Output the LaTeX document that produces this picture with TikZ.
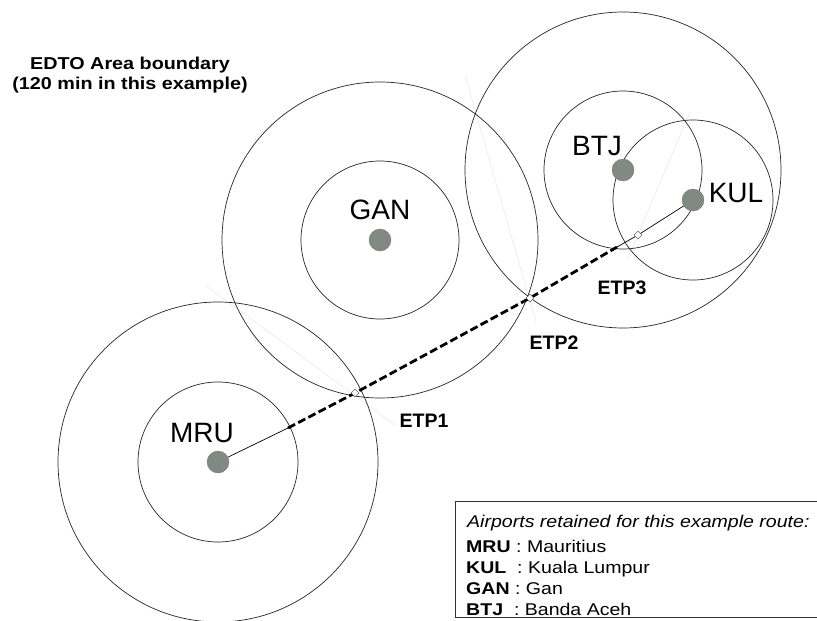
\documentclass[tikz,border=0pt]{standalone}
\usepackage{fontspec}
\setmainfont{Liberation Sans}
\newfontfamily\widesans[FakeStretch=1.15]{Liberation Sans}
\usepackage{xcolor}
\usepackage{tikz}
\usetikzlibrary{shapes.geometric}
\definecolor{dotgray}{RGB}{128,138,130}

\begin{document}
\begin{tikzpicture}[x=1pt,y=-1pt,
  ring/.style={draw=black!85, line width=0.7pt},
  port/.style={circle, fill=dotgray, draw=dotgray!85!black, line width=0.3pt, minimum size=22pt, inner sep=0pt},
  portlbl/.style={inner sep=0pt, font=\fontsize{28}{30}\selectfont},
  etp/.style={diamond, draw=black!75, fill=white, minimum size=8pt, inner sep=0pt, line width=0.4pt},
  etplbl/.style={inner sep=0pt, font=\bfseries\fontsize{19.5}{21}\selectfont},
  route/.style={line width=2.8pt, dash pattern=on 8pt off 3.5pt},
  bisect/.style={draw=gray!22, line width=0.4pt},
  leg/.style={anchor=base west, inner sep=0pt, font=\widesans\fontsize{17}{19}\selectfont}]
\useasboundingbox (0,0) rectangle (817,621);
\fill[white] (0,0) rectangle (817,621);

\draw[bisect] (205,285) -- (395,425);
\draw[bisect] (465,75) -- (536,322);
\draw[bisect] (690,112) -- (628,258);

\coordinate (mrupos) at (218,462);
\coordinate (ganpos) at (380,240);
\coordinate (btjpos) at (623,170);
\coordinate (kulpos) at (693,200);

\draw[ring] (mrupos) circle (80pt);
\draw[ring] (mrupos) circle (160pt);
\draw[ring] (ganpos) circle (79pt);
\draw[ring] (ganpos) circle (158pt);
\draw[ring] (btjpos) circle (79pt);
\draw[ring] (btjpos) circle (158pt);
\draw[ring] (kulpos) circle (80pt);

\coordinate (mruexit) at (288,428);
\coordinate (p1) at (355,393);
\coordinate (p2) at (530,298);
\coordinate (btjentry) at (617,247);
\coordinate (p3) at (638,235);

\draw[line width=0.7pt] (mrupos) -- (mruexit);
\draw[route] (mruexit) -- (p1) -- (p2) -- (btjentry);
\draw[line width=0.7pt] (btjentry) -- (p3) -- (kulpos);

\node[etp] (etp1) at (p1) {};
\node[etp] (etp2) at (p2) {};
\node[etp] (etp3) at (p3) {};

\node[port] (mru) at (mrupos) {};
\node[port] (gan) at (ganpos) {};
\node[port] (btj) at (btjpos) {};
\node[port] (kul) at (kulpos) {};

\node[portlbl] (mrulbl) at (202,433) {MRU};
\node[portlbl] (ganlbl) at (380,210) {GAN};
\node[portlbl] (btjlbl) at (597,146) {BTJ};
\node[portlbl] (kullbl) at (736,193) {KUL};

\node[etplbl] (etp1lbl) at (424,421) {ETP1};
\node[etplbl] (etp2lbl) at (554,343) {ETP2};
\node[etplbl] (etp3lbl) at (622,288) {ETP3};

\node[inner sep=0pt, align=center, font=\widesans\bfseries\fontsize{17.2}{19.5}\selectfont] (edto) at (130,75)
  {EDTO Area boundary\\(120 min in this example)};

\draw[line width=0.5pt, draw=black!80] (830,501) -- (455,501) -- (455,617) -- (830,617);
\node[leg] (legtitle) at (467,527) {\itshape Airports retained for this example route:};
\node[leg] (legmru) at (466,552) {\textbf{MRU} : Mauritius};
\node[leg] (legkul) at (466,573) {\textbf{KUL}\ \ : Kuala Lumpur};
\node[leg] (leggan) at (466,594) {\textbf{GAN} : Gan};
\node[leg] (legbtj) at (466,615) {\textbf{BTJ}\ \ : Banda Aceh};
\end{tikzpicture}
\end{document}
